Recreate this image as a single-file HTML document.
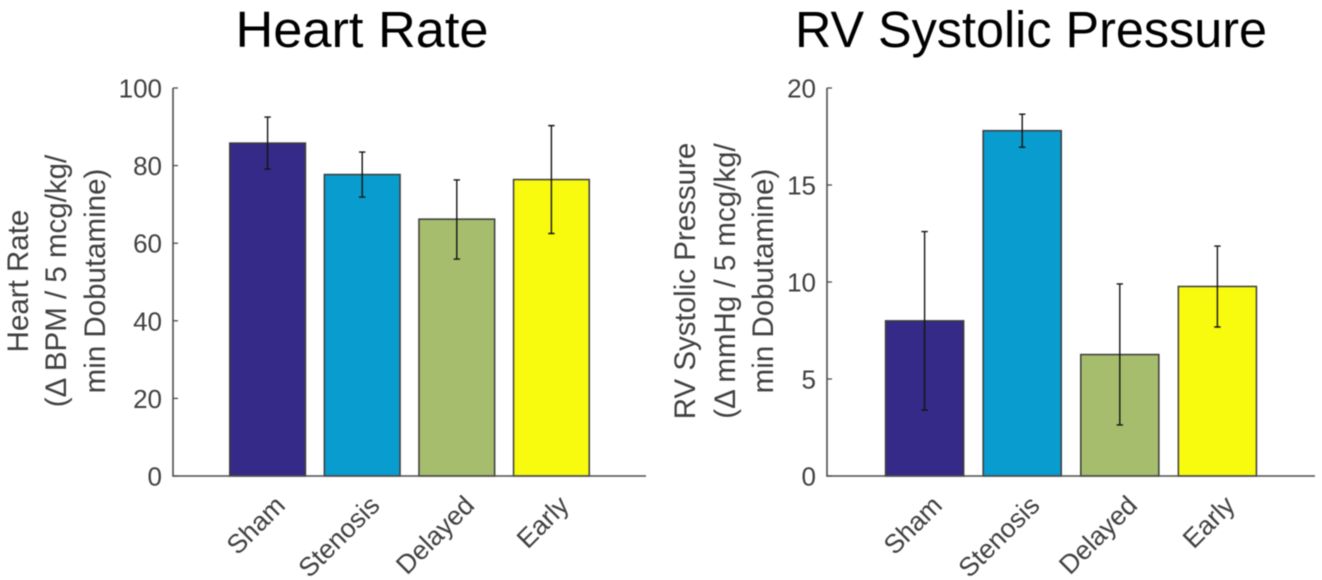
<!DOCTYPE html>
<html lang="en">
<head>
<meta charset="utf-8">
<title>Heart Rate and RV Systolic Pressure</title>
<style>
html,body{margin:0;padding:0;background:#fff;width:1322px;height:580px;overflow:hidden}
svg{display:block;filter:blur(0.6px)}
text{font-family:"Liberation Sans",sans-serif}
.title{font-size:51px;fill:#000;text-anchor:middle}
.tick{font-size:26px;fill:#404040;text-anchor:end}
.ylab{font-size:29.5px;fill:#404040;text-anchor:middle}
.cat{font-size:26.5px;fill:#404040;text-anchor:end}
</style>
</head>
<body>
<svg id="chart" xmlns="http://www.w3.org/2000/svg" width="1322" height="580" viewBox="0 0 1322 580">
<rect width="1322" height="580" fill="#fff"/>
<text class="title" x="362" y="47" textLength="253" lengthAdjust="spacingAndGlyphs">Heart Rate</text>
<text class="title" x="1031" y="47" textLength="472" lengthAdjust="spacingAndGlyphs">RV Systolic Pressure</text>
<g>
<text class="ylab" transform="translate(28 281) rotate(-90)">Heart Rate</text>
<text class="ylab" transform="translate(66 281) rotate(-90)">(Δ BPM / 5 mcg/kg/</text>
<text class="ylab" transform="translate(105 281) rotate(-90)">min Dobutamine)</text>
</g>
<g>
<text class="ylab" transform="translate(695 281) rotate(-90)">RV Systolic Pressure</text>
<text class="ylab" transform="translate(735 281) rotate(-90)">(Δ mmHg / 5 mcg/kg/</text>
<text class="ylab" transform="translate(773 281) rotate(-90)">min Dobutamine)</text>
</g>
</svg>
<script>
const categories = ['Sham', 'Stenosis', 'Delayed', 'Early'];
const barColors = ['#352a87', '#089ccf', '#a5bd6c', '#f9fb0e'];
const heartRateValues = [85.8, 77.7, 66.2, 76.4];
const heartRateErrorHigh = [92.5, 83.5, 76.3, 90.3];
const heartRateErrorLow = [79.1, 71.9, 55.9, 62.5];
const heartRateTicks = [0, 20, 40, 60, 80, 100];
const rvPressureValues = [8.0, 17.8, 6.26, 9.77];
const rvPressureErrorHigh = [12.6, 18.65, 9.9, 11.85];
const rvPressureErrorLow = [3.4, 16.95, 2.63, 7.68];
const rvPressureTicks = [0, 5, 10, 15, 20];

const svg = document.getElementById('chart');
const NS = 'http://www.w3.org/2000/svg';

function make(tag, attrs, parent) {
  const el = document.createElementNS(NS, tag);
  for (const k in attrs) el.setAttribute(k, attrs[k]);
  parent.appendChild(el);
  return el;
}

function drawPanel(cfg) {
  const yScale = v => cfg.y0 - (v / cfg.yMax) * (cfg.y0 - cfg.y1);
  const xScale = p => cfg.x0 + (p / 5) * (cfg.x1 - cfg.x0);
  const bw = 0.8 * (cfg.x1 - cfg.x0) / 5;

  const group = make('g', {}, svg);
  
  

  cfg.values.forEach((v, i) => {
    const cx = xScale(i + 1);
    const bar = make('rect', {
      x: cx - bw / 2, y: yScale(v), width: bw, height: cfg.y0 - yScale(v),
      fill: barColors[i], stroke: '#3c3c3c', 'stroke-width': 1.5
    }, group);
    
    
  });

  cfg.values.forEach((v, i) => {
    const cx = xScale(i + 1);
    const hi = yScale(cfg.high[i]);
    const lo = yScale(cfg.low[i]);
    const err = make('path', {
      d: 'M' + cx + ' ' + hi + 'V' + lo + 'M' + (cx - 3.2) + ' ' + hi + 'H' + (cx + 3.2) + 'M' + (cx - 3.2) + ' ' + lo + 'H' + (cx + 3.2),
      fill: 'none', stroke: '#141414', 'stroke-width': 1.4
    }, group);
    
    
  });

  const axes = make('path', {
    d: 'M' + cfg.x0 + ' ' + cfg.y1 + 'V' + cfg.y0 + 'H' + cfg.x1,
    fill: 'none', stroke: '#4d4d4d', 'stroke-width': 1.6
  }, group);
  
  

  cfg.ticks.forEach(t => {
    const y = yScale(t);
    const mark = make('line', {
      x1: cfg.x0, x2: cfg.x0 + 5, y1: y, y2: y, stroke: '#4d4d4d', 'stroke-width': 1.3
    }, group);
    
    
    const label = make('text', { class: 'tick', x: cfg.x0 - 11, y: y + 9.5 }, group);
    
    
    label.textContent = t;
  });

  categories.forEach((c, i) => {
    const cx = xScale(i + 1);
    const label = make('text', {
      class: 'cat',
      transform: 'translate(' + (cx + 19) + ' ' + (cfg.y0 + 31) + ') rotate(-45)'
    }, group);
    
    
    label.textContent = c;
  });
}

drawPanel({
  name: 'heart-rate', x0: 173, x1: 646, y0: 476, y1: 88, yMax: 100,
  values: heartRateValues, high: heartRateErrorHigh, low: heartRateErrorLow, ticks: heartRateTicks
});
drawPanel({
  name: 'rv-pressure', x0: 827, x1: 1315, y0: 476, y1: 88, yMax: 20,
  values: rvPressureValues, high: rvPressureErrorHigh, low: rvPressureErrorLow, ticks: rvPressureTicks
});
</script>
</body>
</html>
